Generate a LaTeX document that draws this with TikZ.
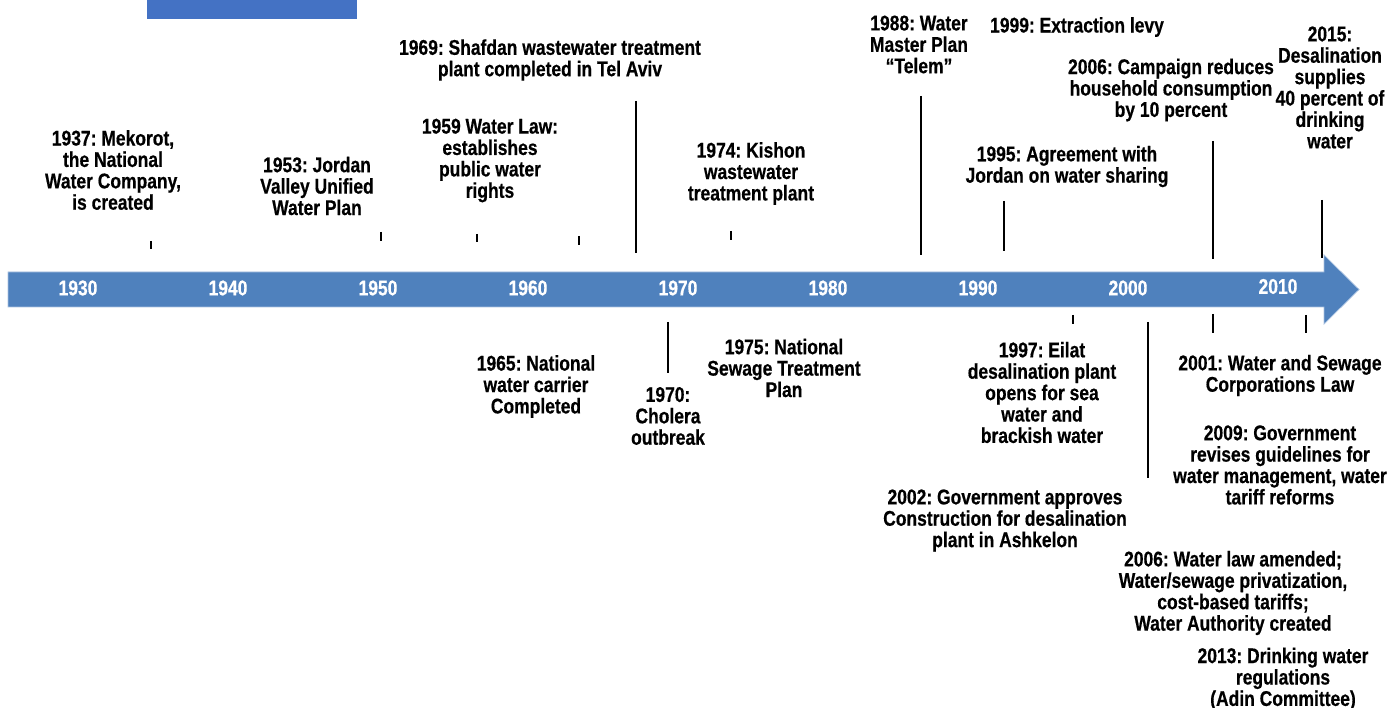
\documentclass[tikz,border=0pt]{standalone}
\usepackage{fontspec}
\setmainfont{Liberation Sans}[FakeStretch=0.82, BoldFeatures={FakeBold=0.5}]
\frenchspacing
\newcommand\evfont{\fontsize{21.3}{21.4}\selectfont\bfseries}
\definecolor{bandblue}{HTML}{4F81BD}
\definecolor{bandedge}{HTML}{A9C1E0}
\definecolor{topblue}{HTML}{4472C4}
\tikzset{
  ev/.style={font=\evfont, align=center, inner sep=0pt, text=black},
  yr/.style={font=\evfont, inner sep=0pt, text=white},
  lead/.style={line width=1.8pt, black},
}
\begin{document}
\begin{tikzpicture}[x=1pt,y=-1pt]
\useasboundingbox (0,0) rectangle (1397,708);
% top blue block
\fill[topblue] (147,0) rectangle (357,19);
% timeline arrow
\filldraw[fill=bandblue, draw=bandedge, line width=0.7pt] (8,272) -- (1324,272) -- (1324,255) -- (1359,289.5) -- (1324,324) -- (1324,307) -- (8,307) -- cycle;
% decade labels
\foreach \yv [count=\i from 0] in {1930,1940,1950,1960,1970,1980,1990,2000}
  \node[yr] (y\yv) at (78+150*\i,288) {\yv};
\node[yr] (y2010) at (1278,286.5) {2010};
% events above
\node[ev] (e1937) at (113,170) {1937: Mekorot,\\the National\\Water Company,\\is created};
\node[ev] (e1953) at (317,186) {1953: Jordan\\Valley Unified\\Water Plan};
\node[ev] (e1959) at (490,160.5) {1959 Water Law:\\establishes\\public water\\rights};
\node[ev] (e1969) at (550,60) {1969: Shafdan wastewater treatment\\plant completed in Tel Aviv};
\node[ev] (e1974) at (751,173.5) {1974: Kishon\\wastewater\\treatment plant};
\node[ev] (e1988) at (919,44.5) {1988: Water\\Master Plan\\“Telem”};
\node[ev] (e1999) at (1077,27) {1999: Extraction levy};
\node[ev] (e2006a) at (1171,90) {2006: Campaign reduces\\household consumption\\by 10 percent};
\node[ev] (e2015) at (1330,87.5) {2015:\\Desalination\\supplies\\40 percent of\\drinking\\water};
\node[ev] (e1995) at (1067,166.5) {1995: Agreement with\\Jordan on water sharing};
% events below
\node[ev] (e1965) at (536,386.5) {1965: National\\water carrier\\Completed};
\node[ev] (e1970) at (668,416) {1970:\\Cholera\\outbreak};
\node[ev] (e1975) at (784,368) {1975: National\\Sewage Treatment\\Plan};
\node[ev] (e1997) at (1042,392.5) {1997: Eilat\\desalination plant\\opens for sea\\water and\\brackish water};
\node[ev] (e2001) at (1280,375.5) {2001: Water and Sewage\\Corporations Law};
\node[ev] (e2009) at (1280,465) {2009: Government\\revises guidelines for\\water management, water\\tariff reforms};
\node[ev] (e2002) at (1005,520.5) {2002: Government approves\\Construction for desalination\\plant in Ashkelon};
\node[ev] (e2006b) at (1233,593) {2006: Water law amended;\\Water/sewage privatization,\\cost-based tariffs;\\Water Authority created};
\node[ev] (e2013) at (1283,679) {2013: Drinking water\\regulations\\(Adin Committee)};
% leader lines (tops / bottoms)
\foreach \n/\x/\ya/\yb in {t1937/151/241/249, t1953/381/232/241, t1959/477/234/242, t1965/579/236/245,
  t1969/636/101/253, t1974/731/231/240, t1988/921/96/255, t1995/1004/201/251,
  t2006a/1213/141/259, t2015/1322/200/258, t1970/668/322/373, t1997/1073/315/324,
  t2002/1148/322/478, t2001/1213/314/333, t2009/1306/315/333}{
  \coordinate (\n a) at (\x,\ya);
  \coordinate (\n b) at (\x,\yb);
  \draw[lead] (\n a) -- (\n b);
}
\end{tikzpicture}
\end{document}
